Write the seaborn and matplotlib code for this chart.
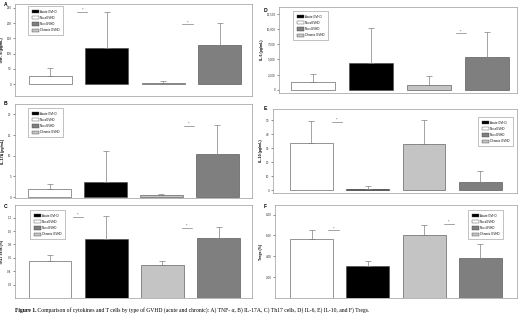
import matplotlib
matplotlib.use("Agg")
import matplotlib.pyplot as plt
from matplotlib.patches import Patch
import seaborn as sns
import pandas as pd

groups = ['No aGVHD', 'Acute GVHD', 'Chronic GVHD', 'No cGVHD']
legend_order = ['Acute GVHD', 'No aGVHD', 'No cGVHD', 'Chronic GVHD']
colors = {'No aGVHD': '#ffffff', 'Acute GVHD': '#000000',
          'Chronic GVHD': '#c4c4c4', 'No cGVHD': '#7f7f7f'}

# means and upper SD
tnf_mean = [26, 117, 4, 128]
tnf_sd = [26, 121, 6, 72]
il17_mean = [1.9, 3.7, 0.6, 10.4]
il17_sd = [1.2, 7.4, 0.15, 7.0]
th17_mean = [0.56, 0.875, 0.50, 0.895]
th17_sd = [0.09, 0.35, 0.06, 0.17]
il6_mean = [1325, 4420, 780, 5470]
il6_sd = [1225, 5850, 1440, 4030]
il10_mean = [33.3, 0.9, 32.8, 5.7]
il10_sd = [15.7, 1.9, 17.2, 8.1]
treg_mean = [5.66, 3.08, 6.04, 3.85]
treg_sd = [0.84, 0.51, 0.98, 1.33]

# significance marks (x position, height)
tnf_sig = [(0.57, 238), (2.43, 196)]
il17_sig = [(2.49, 17.2)]
th17_sig = [(0.5, 1.215), (2.43, 1.05)]
il6_sig = [(2.55, 9340)]
il10_sig = [(0.45, 48.8)]
treg_sig = [(0.39, 6.48), (2.44, 7.09)]

tnf_ticks = [0, 50, 100, 150, 200, 250]
il17_ticks = [0, 5, 10, 15, 20]
th17_ticks = [0.2, 0.4, 0.6, 0.8, 1.0, 1.2]
il6_ticks = [0, 2500, 5000, 7500, 10000, 12500]
il10_ticks = [0, 10, 20, 30, 40, 50]
treg_ticks = [2, 4, 6, 8]

W, H = 520, 318
fig = plt.figure(figsize=(W / 100, H / 100), dpi=100)
plt.rcParams['font.family'] = ['Liberation Sans', 'DejaVu Sans']


def add_ax(l, t, r, b):
    return fig.add_axes([l / W, 1 - b / H, (r - l) / W, (b - t) / H])


def panel(box, letter, letter_xy, means, sds, ylabel, ylim, ticks, fmt,
          sigs, leg_xy, xlim):
    ax = add_ax(*box)
    df = pd.DataFrame({'group': groups, 'value': means})
    sns.barplot(data=df, x='group', y='value', hue='group', order=groups,
                hue_order=groups, palette=colors, width=0.76,
                edgecolor='#444444', linewidth=0.4, legend=False, ax=ax)
    ax.errorbar(range(4), means, yerr=[[0] * 4, sds], fmt='none',
                ecolor='#808080', elinewidth=0.5, capsize=2.3,
                capthick=0.5, zorder=1)
    for x, y in sigs:
        ax.plot([x - 0.09, x + 0.09], [y, y], color='#808080', lw=0.5)
        ax.text(x, y, '*', ha='center', va='bottom', fontsize=3,
                color='#555555')
    ax.set_xlim(*xlim)
    ax.set_ylim(*ylim)
    ax.set_yticks(ticks)
    ax.set_yticklabels([fmt.format(t) for t in ticks])
    ax.set_xticks([])
    ax.set_xlabel('')
    ax.set_ylabel(ylabel, fontsize=2.6, fontweight='bold', labelpad=2)
    ax.tick_params(axis='y', labelsize=2.2, length=1.5, width=0.4,
                   pad=1, colors='#333333')
    for s in ax.spines.values():
        s.set_color('#9a9a9a')
        s.set_linewidth(0.5)
    handles = [Patch(facecolor=colors[g], edgecolor='#444444',
                     linewidth=0.3, label=g) for g in legend_order]
    leg = ax.legend(handles=handles, loc='upper left',
                    bbox_to_anchor=(leg_xy[0] / W, 1 - leg_xy[1] / H),
                    bbox_transform=fig.transFigure, fontsize=2.1,
                    frameon=True, fancybox=False, borderpad=1.1,
                    labelspacing=0.75, handlelength=2.4, handleheight=1.3,
                    handletextpad=0.5)
    leg.get_frame().set_edgecolor('#777777')
    leg.get_frame().set_linewidth(0.4)
    fig.text(letter_xy[0] / W, 1 - letter_xy[1] / H, letter,
             fontsize=3.6, fontweight='bold', ha='left', va='center')
    return ax


panel((15, 4, 252, 96), 'A', (4, 4), tnf_mean, tnf_sd, 'TNF- α (pg/mL)',
      (-39, 263), tnf_ticks, '{:d}', tnf_sig, (27, 5), (-0.62, 3.57))
panel((15, 104, 252, 198), 'B', (4, 104), il17_mean, il17_sd,
      'IL-17A (pg/mL)', (-0.24, 22.5), il17_ticks, '{:d}', il17_sig,
      (27, 107), (-0.62, 3.62))
panel((15, 205, 252, 298), 'C', (4, 207), th17_mean, th17_sd,
      'Th17 cells (%)', (0, 1.39), th17_ticks, '{:.1f}', th17_sig,
      (29, 209), (-0.62, 3.59))
panel((279, 7, 517, 93), 'D', (264, 10), il6_mean, il6_sd, 'IL-6 (pg/mL)',
      (-546, 13690), il6_ticks, '{:,}', il6_sig, (292, 10), (-0.58, 3.51))
panel((273, 109, 517, 193), 'E', (264, 109), il10_mean, il10_sd,
      'IL-10 (pg/mL)', (-2.1, 57.9), il10_ticks, '{:d}', il10_sig,
      (477, 116), (-0.68, 3.65))
panel((275, 205, 517, 298), 'F', (264, 206), treg_mean, treg_sd,
      'Tregs (%)', (0, 8.92), treg_ticks, '{:.2f}', treg_sig,
      (467, 209), (-0.65, 3.65))

t1 = fig.text(15 / W, 1 - 313 / H, 'Figure 1.', fontsize=4.1,
              fontweight='bold', family='Liberation Serif', va='bottom')
fig.axes[0].annotate(
    ' Comparison of cytokines and T cells by type of GVHD (acute and '
    'chronic): A) TNF- α, B) IL-17A, C) Th17 cells, D) IL-6, E) IL-10, '
    'and F) Tregs.', xy=(1, 0), xycoords=t1, va='bottom', ha='left',
    fontsize=4.1, family='Liberation Serif', annotation_clip=False)

fig.savefig('out.png', dpi=100)
